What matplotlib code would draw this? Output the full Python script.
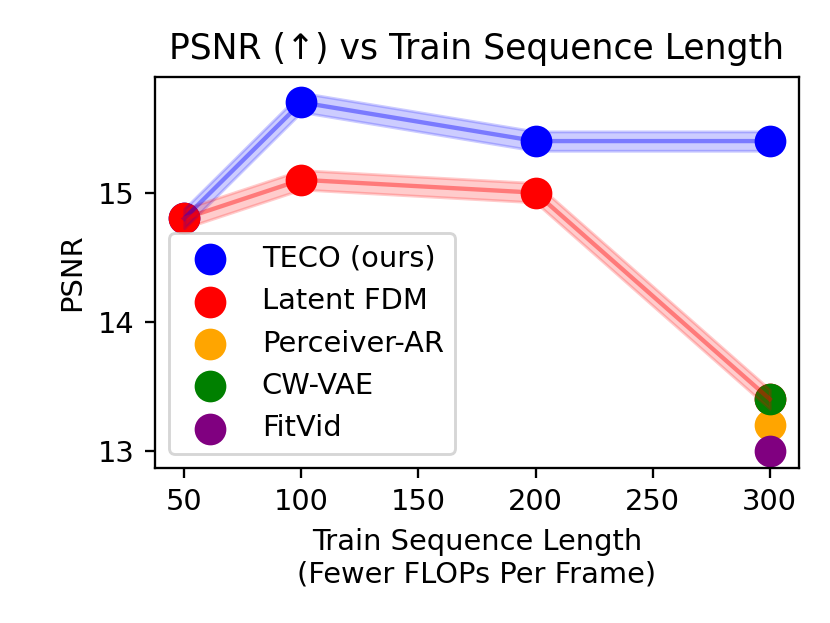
import matplotlib
matplotlib.use("Agg")
import matplotlib.pyplot as plt
import numpy as np

seq_len = [50, 100, 200, 300]
teco_psnr = [14.8, 15.7, 15.4, 15.4]
teco_std = [0.075, 0.075, 0.075, 0.075]
fdm_psnr = [14.8, 15.1, 15.0, 13.4]
fdm_std = [0.075, 0.075, 0.075, 0.075]
single_x = [300]
perceiver_psnr = [13.2]
cwvae_psnr = [13.4]
fitvid_psnr = [13.0]

DPI = 207.6
fig = plt.figure(figsize=(830 / DPI, 623 / DPI), dpi=DPI)
ax = fig.add_axes([0.1867, 0.2483, 0.9627 - 0.1867, 0.8769 - 0.2483])

ax.scatter(seq_len, teco_psnr, color="blue", s=100, label="TECO (ours)")
ax.scatter(seq_len, fdm_psnr, color="red", s=100, label="Latent FDM")
ax.scatter(single_x, perceiver_psnr, color="orange", s=100, label="Perceiver-AR")
ax.scatter(single_x, cwvae_psnr, color="green", s=100, label="CW-VAE")
ax.scatter(single_x, fitvid_psnr, color="purple", s=100, label="FitVid")

t = np.array(teco_psnr)
ts = np.array(teco_std)
f = np.array(fdm_psnr)
fs = np.array(fdm_std)
ax.plot(seq_len, t, color="blue", alpha=0.4)
ax.fill_between(seq_len, t - ts, t + ts, color="blue", alpha=0.2)
ax.plot(seq_len, f, color="red", alpha=0.4)
ax.fill_between(seq_len, f - fs, f + fs, color="red", alpha=0.2)

ax.set_ylim(12.864, 15.899)
ax.set_yticks([13, 14, 15])
ax.set_title("PSNR (↑) vs Train Sequence Length", fontsize=12)
ax.set_xlabel("Train Sequence Length\n(Fewer FLOPs Per Frame)")
ax.set_ylabel("PSNR")
ax.legend(loc="lower left")

fig.savefig("out.png", dpi=DPI)
